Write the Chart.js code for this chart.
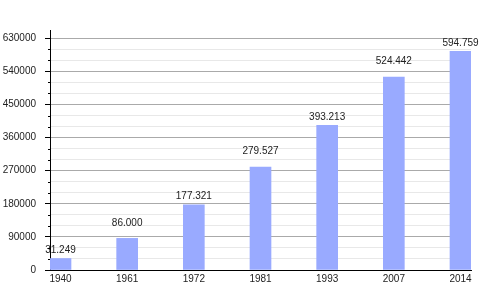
<!DOCTYPE html>
<html>
<head>
<meta charset="utf-8">
<script src="https://cdn.jsdelivr.net/npm/chart.js@4/dist/chart.umd.min.js"></script>
<style>
  html, body { margin: 0; padding: 0; background: #fff; }
  #chart { display: block; }
</style>
</head>
<body>
<canvas id="chart" width="500" height="300"></canvas>
<script>
// Data
const years = ['1940', '1961', '1972', '1981', '1993', '2007', '2014'];
const population = [31249, 86000, 177321, 279527, 393213, 524442, 594759];
const populationLabels = ['31.249', '86.000', '177.321', '279.527', '393.213', '524.442', '594.759'];
const yTicks = [0, 30000, 60000, 90000, 120000, 150000, 180000, 210000, 240000, 270000, 300000,
    330000, 360000, 390000, 420000, 450000, 480000, 510000, 540000, 570000, 600000, 630000];
const yLabelStep = 90000;

const FONT = '"Liberation Sans", Arial, sans-serif';

// labels over the bars, every second one lifted a bit higher
const barLabels = {
    id: 'barLabels',
    afterDatasetsDraw(chart) {
        const ctx = chart.ctx;
        const meta = chart.getDatasetMeta(0);
        ctx.save();
        ctx.font = '10px ' + FONT;
        ctx.fillStyle = '#222';
        ctx.textAlign = 'center';
        ctx.textBaseline = 'middle';
        meta.data.forEach((bar, i) => {
            const lift = i % 2 ? 15.5 : 8.5;
            ctx.fillText(populationLabels[i], bar.x, bar.y - lift);
        });
        ctx.restore();
    }
};

// short minor tick marks on the y axis
const minorTicks = {
    id: 'minorTicks',
    afterDraw(chart) {
        const ctx = chart.ctx;
        const y = chart.scales.y;
        const left = chart.chartArea.left;
        ctx.save();
        ctx.strokeStyle = '#000';
        ctx.lineWidth = 1;
        yTicks.forEach(v => {
            if (v % yLabelStep === 0) return;
            const py = Math.round(y.getPixelForValue(v)) + 0.5;
            ctx.beginPath();
            ctx.moveTo(left - 2, py);
            ctx.lineTo(left, py);
            ctx.stroke();
        });
        ctx.restore();
    }
};

new Chart(document.getElementById('chart'), {
    type: 'bar',
    data: {
        datasets: [{
            data: population.map((v, i) => ({ x: i, y: v })),
            backgroundColor: '#99aaff',
            borderWidth: 0,
            barThickness: 21
        }]
    },
    options: {
        responsive: false,
        animation: false,
        layout: { padding: { top: 30, right: 29, left: 0, bottom: 0 } },
        plugins: {
            legend: { display: false },
            tooltip: { enabled: false }
        },
        scales: {
            x: {
                type: 'linear',
                offset: false,
                min: -0.1575,
                max: 6.1575,
                afterBuildTicks: s => { s.ticks = years.map((_, i) => ({ value: i })); },
                afterFit: s => { s.height = 30; },
                grid: { display: false, drawTicks: false, offset: false },
                border: { display: true, color: '#000', width: 1 },
                ticks: {
                    padding: 3,
                    color: '#222',
                    font: { family: FONT, size: 10 },
                    maxRotation: 0,
                    autoSkip: false,
                    callback: v => years[v]
                }
            },
            y: {
                min: 0,
                max: 652600,
                afterBuildTicks: s => { s.ticks = yTicks.map(v => ({ value: v })); },
                afterFit: s => { s.width = 50; },
                grid: {
                    color: c => c.tick && c.tick.value % yLabelStep === 0 ? '#aaaaaa' : '#e8e8e8',
                    tickColor: c => c.tick && c.tick.value % yLabelStep === 0 ? '#000' : 'transparent',
                    tickLength: 5
                },
                border: { display: true, color: '#000', width: 1 },
                ticks: {
                    padding: 9,
                    color: '#222',
                    font: { family: FONT, size: 10 },
                    autoSkip: false,
                    callback: v => v % yLabelStep === 0 ? String(v) : ''
                }
            }
        }
    },
    plugins: [barLabels, minorTicks]
});
</script>
</body>
</html>
